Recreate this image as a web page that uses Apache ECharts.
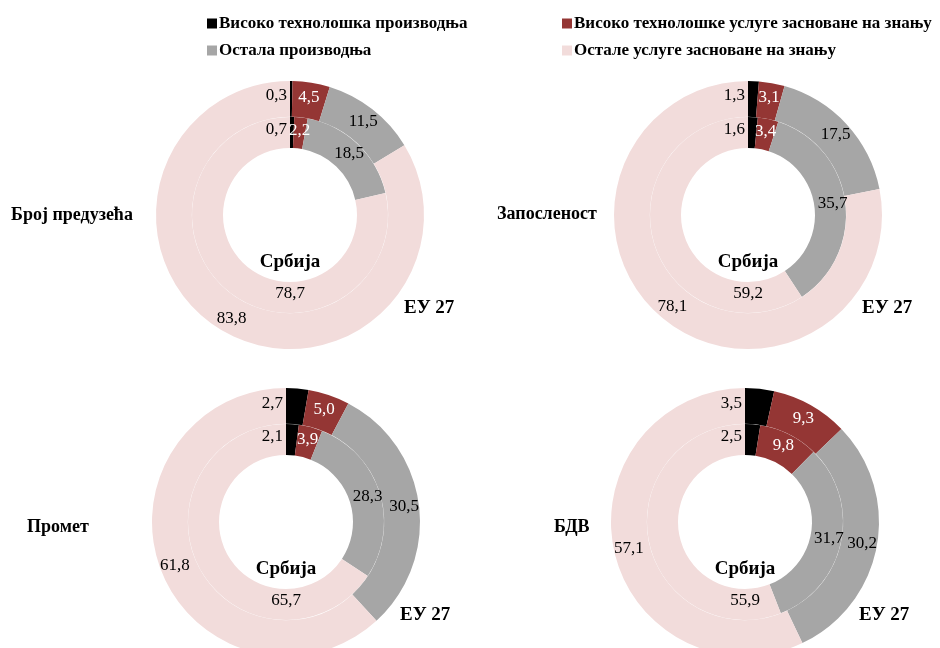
<!DOCTYPE html>
<html>
<head>
<meta charset="utf-8">
<script src="https://cdn.jsdelivr.net/npm/echarts@6/dist/echarts.min.js"></script>
<style>
  body { margin: 0; background: #fff; }
  #chart { width: 940px; height: 648px; }
</style>
</head>
<body>
<div id="chart"></div>
<script>
var categories = [
  "Високо технолошка производња",
  "Високо технолошке услуге засноване на знању",
  "Остала производња",
  "Остале услуге засноване на знању"
];
var panels = ["Број предузећа", "Запосленост", "Промет", "БДВ"];
// Србија (inner ring) and ЕУ 27 (outer ring), order of categories
var serbia = [
  [0.7, 2.2, 18.5, 78.7],
  [1.6, 3.4, 35.7, 59.2],
  [2.1, 3.9, 28.3, 65.7],
  [2.5, 9.8, 31.7, 55.9]
];
var eu27 = [
  [0.3, 4.5, 11.5, 83.8],
  [1.3, 3.1, 17.5, 78.1],
  [2.7, 5.0, 30.5, 61.8],
  [3.5, 9.3, 30.2, 57.1]
];

var colors = ["#000000", "#943634", "#a6a6a6", "#f2dcdb"];
var font = "'Liberation Serif', 'Times New Roman', serif";
var centers = [[290, 215], [748, 215], [286, 522], [745, 522]];
var titlePos = [[11, 215], [497, 214], [27, 527], [554, 527]];

function fmt(v) {
  return v.toFixed(1).replace(".", ",");
}

function makeData(values) {
  return values.map(function (v, i) {
    return {
      name: categories[i],
      value: v,
      itemStyle: { color: colors[i] },
      label: { color: i === 1 ? "#ffffff" : "#000000" }
    };
  });
}

var series = [];
var graphics = [];
panels.forEach(function (p, k) {
  var c = centers[k];
  series.push({
    type: "pie",
    name: "Србија",
    center: [c[0], c[1]],
    radius: [67, 98],
    startAngle: 90,
    silent: true,
    itemStyle: { borderWidth: 0 },
    data: makeData(serbia[k]),
    label: {
      position: "inside",
      fontFamily: font,
      fontSize: 17,
      formatter: function (prm) { return fmt(prm.value); }
    },
    labelLine: { show: false },
    labelLayout: function (prm) {
      if (prm.dataIndex === 0) return { x: c[0] - 3, align: "right" };
      if (prm.dataIndex === 3) return { x: c[0], y: c[1] + 79, align: "center", verticalAlign: "middle" };
      return {};
    }
  });
  series.push({
    type: "pie",
    name: "ЕУ 27",
    center: [c[0], c[1]],
    radius: [98.2, 134],
    startAngle: 90,
    silent: true,
    itemStyle: { borderWidth: 0 },
    data: makeData(eu27[k]),
    label: {
      position: "inside",
      fontFamily: font,
      fontSize: 17,
      formatter: function (prm) { return fmt(prm.value); }
    },
    labelLine: { show: false },
    labelLayout: function (prm) {
      if (prm.dataIndex === 0) return { x: c[0] - 3, align: "right" };
      return {};
    }
  });
  graphics.push({
    type: "text", x: titlePos[k][0], y: titlePos[k][1],
    style: { text: p, font: "bold 18px " + font, fill: "#000", verticalAlign: "middle" }
  });
  graphics.push({
    type: "text", x: c[0], y: c[1] + 47, z: 10,
    style: { text: "Србија", font: "bold 19px " + font, fill: "#000", align: "center", verticalAlign: "middle" }
  });
  graphics.push({
    type: "text", x: c[0] + 114, y: c[1] + 93,
    style: { text: "ЕУ 27", font: "bold 19px " + font, fill: "#000", verticalAlign: "middle" }
  });
});

var legendStyle = {
  orient: "vertical",
  top: 10,
  itemWidth: 10,
  itemHeight: 10,
  itemGap: 10,
  icon: "rect",
  selectedMode: false,
  textStyle: { fontFamily: font, fontSize: 17, fontWeight: "bold", color: "#000", padding: [0, 0, 0, -3] }
};

var myChart = echarts.init(document.getElementById("chart"));
myChart.setOption({
  animation: false,
  legend: [
    Object.assign({ left: 202, data: [categories[0], categories[2]] }, legendStyle),
    Object.assign({ left: 557, data: [categories[1], categories[3]] }, legendStyle)
  ],
  graphic: graphics,
  series: series
});
</script>
</body>
</html>
